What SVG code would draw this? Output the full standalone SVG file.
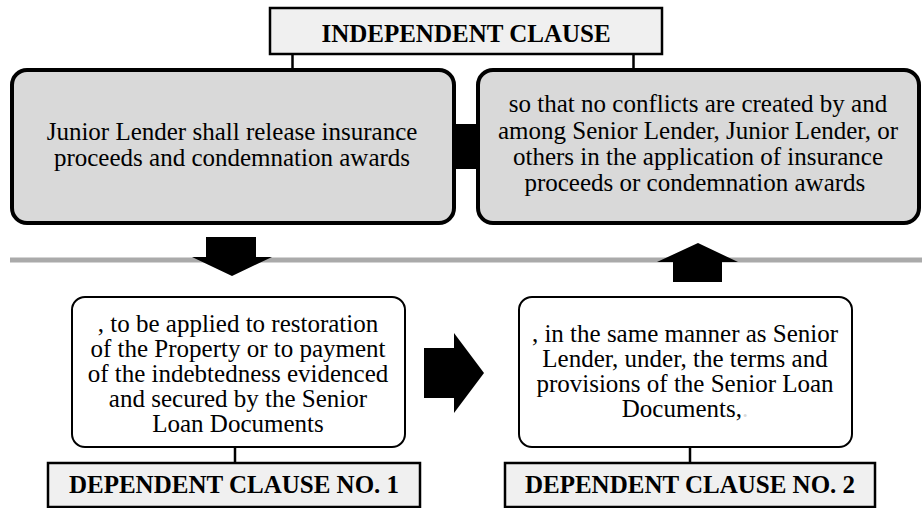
<svg xmlns="http://www.w3.org/2000/svg" width="922" height="508" viewBox="0 0 922 508">
  <style>
    .txt { font-family: "Times New Roman", Tinos, "Liberation Serif", "DejaVu Serif", serif; font-size: 25px; fill: #000; text-anchor: middle; }
    .label { font-family: "Liberation Serif", "Times New Roman", serif; font-size: 25px; font-weight: bold; fill: #000; text-anchor: middle; }
    .labelbox { fill: #f0f0f0; stroke: #000; stroke-width: 2.5; }
    .main { fill: #d9d9d9; stroke: #000; stroke-width: 4; }
    .sub { fill: #fff; stroke: #000; stroke-width: 2; }
    .conn { stroke: #000; stroke-width: 2.5; fill: none; }
    .arrow { fill: #000; }
    .faint { fill: #d8d8d8; }
  </style>
  <rect width="922" height="508" fill="#fff"/>

  <g id="connectors">
    <line class="conn" x1="292.5" y1="54" x2="292.5" y2="69"/>
    <line class="conn" x1="633.5" y1="54" x2="633.5" y2="69"/>
    <line class="conn" x1="235" y1="447" x2="235" y2="463"/>
    <line class="conn" x1="690" y1="447" x2="690" y2="463"/>
    <line x1="10" y1="260" x2="922" y2="260" stroke="#aaaaaa" stroke-width="5"/>
  </g>

  <g id="independent-clause">
    <rect class="labelbox" x="270" y="8" width="392" height="46"/>
    <text class="label" x="466" y="42">INDEPENDENT CLAUSE</text>
  </g>

  <g id="main-left">
    <rect class="main" x="12" y="70" width="442" height="153" rx="15" ry="15"/>
    <text class="txt" x="232" y="140">Junior Lender shall release insurance</text>
    <text class="txt" x="232" y="166">proceeds and condemnation awards</text>
  </g>

  <g id="main-right">
    <rect class="main" x="478" y="70" width="441" height="153" rx="15" ry="15"/>
    <text class="txt" x="698" y="112">so that no conflicts are created by and</text>
    <text class="txt" x="698" y="138.5">among Senior Lender, Junior Lender, or</text>
    <text class="txt" x="698" y="165">others in the application of insurance</text>
    <text class="txt" x="698" y="191">proceeds or condemnation awards<tspan class="faint">.</tspan></text>
  </g>

  <g id="link-bar">
    <rect class="arrow" x="453" y="124" width="27" height="45"/>
  </g>

  <g id="arrow-down">
    <polygon class="arrow" points="206,237 256,237 256,257 272,257 232,276 192,257 206,257"/>
  </g>
  <g id="arrow-up">
    <polygon class="arrow" points="698,243 738,262 722,262 722,282 673,282 673,262 657,262"/>
  </g>
  <g id="arrow-right">
    <polygon class="arrow" points="424,348 454,348 454,333 484,373 454,413 454,398 424,398"/>
  </g>

  <g id="sub-left">
    <rect class="sub" x="72" y="297" width="333" height="150" rx="13" ry="13"/>
    <text class="txt" x="238" y="332">, to be applied to restoration</text>
    <text class="txt" x="238" y="357">of the Property or to payment</text>
    <text class="txt" x="238" y="382">of the indebtedness evidenced</text>
    <text class="txt" x="238" y="407">and secured by the Senior</text>
    <text class="txt" x="238" y="432">Loan Documents</text>
  </g>

  <g id="sub-right">
    <rect class="sub" x="519" y="297" width="333" height="150" rx="13" ry="13"/>
    <text class="txt" x="685" y="342">, in the same manner as Senior</text>
    <text class="txt" x="685" y="367">Lender, under, the terms and</text>
    <text class="txt" x="685" y="392">provisions of the Senior Loan</text>
    <text class="txt" x="685" y="417">Documents,<tspan class="faint">.</tspan></text>
  </g>

  <g id="dependent-clause-1">
    <rect class="labelbox" x="48" y="463" width="372" height="44"/>
    <text class="label" x="234" y="493">DEPENDENT CLAUSE NO. 1</text>
  </g>

  <g id="dependent-clause-2">
    <rect class="labelbox" x="505" y="463" width="370" height="44"/>
    <text class="label" x="690" y="493">DEPENDENT CLAUSE NO. 2</text>
  </g>
</svg>
